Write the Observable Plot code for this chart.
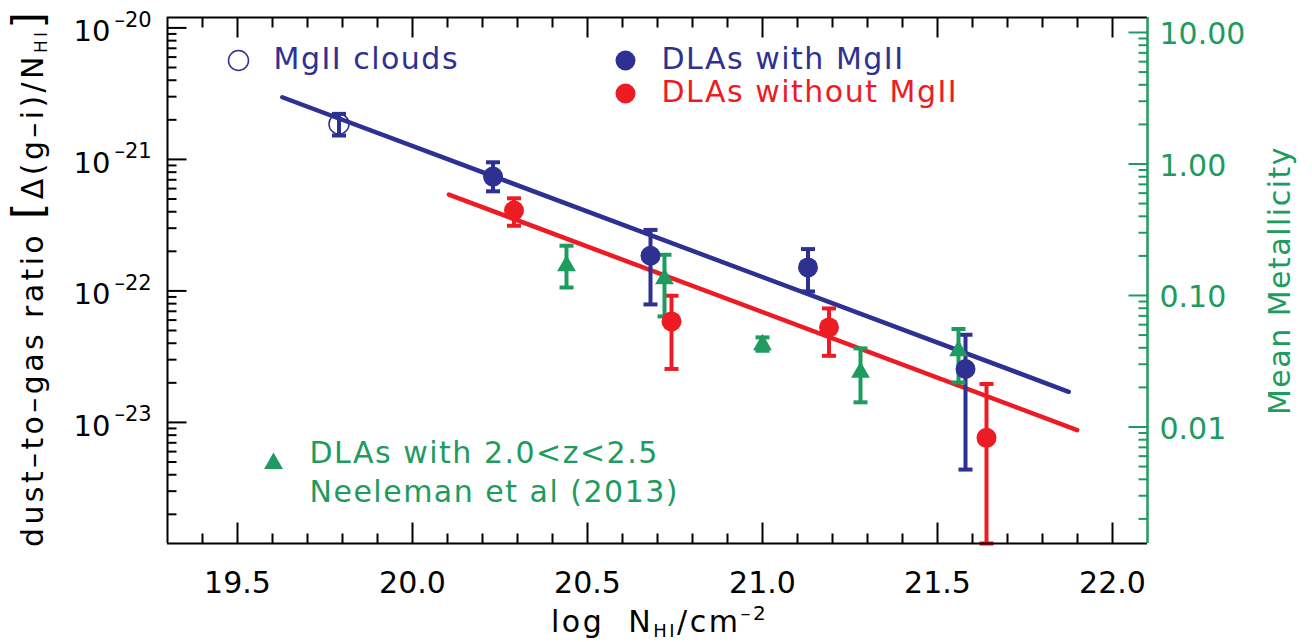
<!DOCTYPE html>
<html><head><meta charset="utf-8">
<script src="https://cdn.jsdelivr.net/npm/d3@7"></script>
<script src="https://cdn.jsdelivr.net/npm/@observablehq/plot@0.6"></script>
<style>body{margin:0;background:#fff} svg{display:block}</style>
</head><body><div id="chart"></div>
<script>
// ---- scales / ticks ----
const xDomain = [19.3, 22.1];
const yDomain = [1.2e-24, 1.2e-20];     // dust-to-gas ratio
const zDomain = [0.0013, 13];           // mean metallicity (right axis)
const xMajor = [19.5, 20.0, 20.5, 21.0, 21.5, 22.0];
const yMajor = [1e-20, 1e-21, 1e-22, 1e-23];
const yExpLabels = ["20", "21", "22", "23"];
const zMajor = [10, 1, 0.1, 0.01];

// ---- data ----
// MgII clouds
const mgNH = [19.79];
const mgRatio = [1.86e-21];
const mgLo = [1.52e-21];
const mgHi = [2.22e-21];
// DLAs with MgII
const wNH = [20.23, 20.68, 21.13, 21.58];
const wRatio = [7.40e-22, 1.85e-22, 1.51e-22, 2.55e-23];
const wLo = [5.72e-22, 7.89e-23, 9.91e-23, 4.38e-24];
const wHi = [9.51e-22, 2.91e-22, 2.08e-22, 4.64e-23];
// DLAs without MgII
const woNH = [20.29, 20.74, 21.19, 21.64];
const woRatio = [4.08e-22, 5.86e-23, 5.28e-23, 7.63e-24];
const woLo = [3.13e-22, 2.55e-23, 3.21e-23, 1.2e-24];
const woHi = [5.06e-22, 9.19e-23, 7.36e-23, 1.96e-23];
// Neeleman et al (2013), mean metallicity
const nNH = [20.44, 20.72, 21.00, 21.28, 21.56];
const nZ = [0.168, 0.134, 0.0422, 0.0260, 0.0380];
const nLo = [0.115, 0.0693, 0.0380, 0.0154, 0.0218];
const nHi = [0.239, 0.204, 0.0480, 0.0396, 0.0556];
// fits
const fitWithNH = [19.628, 21.875];
const fitWithRatio = [2.97e-21, 1.71e-23];
const fitWithoutNH = [20.104, 21.899];
const fitWithoutRatio = [5.40e-22, 8.74e-24];

// ---- styles ----
const blue = "#2E3192", red = "#ED1C24", green = "#1E9B5E";
const F = "DejaVu Sans";
const K = zDomain[1] / yDomain[1];  // metallicity per unit ratio

const rows = (xs, ys, lo, hi) => xs.map((x, i) => ({x, y: ys[i], lo: lo[i], hi: hi[i]}));
const mg = rows(mgNH, mgRatio, mgLo, mgHi);
const w = rows(wNH, wRatio, wLo, wHi);
const wo = rows(woNH, woRatio, woLo, woHi);
const ne = nNH.map((x, i) => ({x, y: nZ[i] / K, lo: nLo[i] / K, hi: nHi[i] / K}));
const fitW = fitWithNH.map((x, i) => ({x, y: fitWithRatio[i]}));
const fitWo = fitWithoutNH.map((x, i) => ({x, y: fitWithoutRatio[i]}));

const seg = (x1, y1, x2, y2) => ({draw(c) { c.moveTo(x1, y1); c.lineTo(x2, y2); }});
const cap = seg(-7, 0, 7, 0);

const xMinor = d3.range(194, 221).filter(d => d % 5 !== 0).map(d => d / 10);
const yMinor = [];
for (let e = -24; e <= -21; e++) for (let m = 2; m <= 9; m++) {
  const v = m * Math.pow(10, e);
  if (v > yDomain[0] && v < yDomain[1]) yMinor.push(v);
}
const zMinor = [];
for (let e = -3; e <= 1; e++) for (let m = 2; m <= 9; m++) {
  const v = m * Math.pow(10, e);
  if (v > zDomain[0] && v < zDomain[1]) zMinor.push(v);
}

function errMarks(data, color) {
  return [
    Plot.ruleX(data, {x: "x", y1: "lo", y2: "hi", stroke: color, strokeWidth: 4}),
    Plot.dot(data, {x: "x", y: "lo", symbol: cap, stroke: color, strokeWidth: 4, fill: "none"}),
    Plot.dot(data, {x: "x", y: "hi", symbol: cap, stroke: color, strokeWidth: 4, fill: "none"})
  ];
}
const tickOpts = (color, sw) => ({fill: "none", stroke: color, strokeWidth: sw});

const chart = Plot.plot({
  width: 1312, height: 642,
  marginLeft: 167, marginRight: 165, marginTop: 17, marginBottom: 99,
  style: {fontFamily: F, background: "#fff"},
  x: {domain: xDomain, axis: null},
  y: {type: "log", domain: yDomain, axis: null},
  marks: [
    // fits
    Plot.line(fitW, {x: "x", y: "y", stroke: blue, strokeWidth: 4.5}),
    Plot.line(fitWo, {x: "x", y: "y", stroke: red, strokeWidth: 4.5}),
    // error bars
    ...errMarks(mg, blue),
    ...errMarks(w, blue),
    ...errMarks(wo, red),
    ...errMarks(ne, green),
    // points
    Plot.dot(mg, {x: "x", y: "y", r: 10, stroke: blue, strokeWidth: 1.5, fill: "none"}),
    Plot.dot(w, {x: "x", y: "y", r: 10, fill: blue}),
    Plot.dot(wo, {x: "x", y: "y", r: 10, fill: red}),
    Plot.dot(ne, {x: "x", y: "y", r: 7, symbol: "triangle", fill: green}),
    // frame
    Plot.ruleY(yDomain, {stroke: "#000", strokeWidth: 2}),
    Plot.ruleX([xDomain[0]], {stroke: "#000", strokeWidth: 2}),
    Plot.ruleX([xDomain[1]], {stroke: green, strokeWidth: 2.5}),
    // bottom / top ticks
    Plot.dot(xMajor, {x: d => d, frameAnchor: "bottom", symbol: seg(0, 0, 0, -21), ...tickOpts("#000", 2)}),
    Plot.dot(xMinor, {x: d => d, frameAnchor: "bottom", symbol: seg(0, 0, 0, -10), ...tickOpts("#000", 2)}),
    Plot.dot(xMajor, {x: d => d, frameAnchor: "top", symbol: seg(0, 0, 0, 20), ...tickOpts("#000", 2)}),
    Plot.dot(xMinor, {x: d => d, frameAnchor: "top", symbol: seg(0, 0, 0, 10), ...tickOpts("#000", 2)}),
    // left ticks
    Plot.dot(yMajor, {y: d => d, frameAnchor: "left", symbol: seg(0, 0, 19, 0), ...tickOpts("#000", 2)}),
    Plot.dot(yMinor, {y: d => d, frameAnchor: "left", symbol: seg(0, 0, 9, 0), ...tickOpts("#000", 2)}),
    // right ticks (metallicity)
    Plot.dot(zMajor, {y: d => d / K, frameAnchor: "right", symbol: seg(0, 0, -19, 0), ...tickOpts(green, 2)}),
    Plot.dot(zMinor, {y: d => d / K, frameAnchor: "right", symbol: seg(0, 0, -9, 0), ...tickOpts(green, 2)}),
    // tick labels
    Plot.text(xMajor, {x: d => d, frameAnchor: "bottom", dy: 49, lineAnchor: "bottom", textAnchor: "middle", text: d3.format(".1f"), fontSize: 30, fill: "#000"}),
    Plot.text(yMajor, {y: d => d, frameAnchor: "left", dx: -57, dy: 4, textAnchor: "end", lineAnchor: "middle", text: () => "10", fontSize: 29, fill: "#000"}),
    Plot.text(yMajor, {y: d => d, frameAnchor: "left", dx: -53, dy: -8, textAnchor: "start", lineAnchor: "middle", text: (d, i) => "–" + yExpLabels[i], fontSize: 21, fill: "#000"}),
    Plot.text(zMajor, {y: d => d / K, frameAnchor: "right", dx: 12, dy: 2, textAnchor: "start", lineAnchor: "middle", text: d3.format(".2f"), fontSize: 30, fill: green}),
    // right axis title
    Plot.text(["Mean Metallicity"], {frameAnchor: "right", dx: 142, rotate: -90, textAnchor: "middle", lineAnchor: "bottom", fontSize: 30, fill: green}),
    // legend
    Plot.dot([0], {frameAnchor: "top-left", dx: 71, dy: 43, r: 10, stroke: blue, strokeWidth: 1.5, fill: "none"}),
    Plot.text(["MgII clouds"], {frameAnchor: "top-left", dx: 106, dy: 51, textAnchor: "start", lineAnchor: "bottom", fontSize: 30, fill: blue}),
    Plot.dot([0], {frameAnchor: "top-left", dx: 458, dy: 43, r: 10, fill: blue}),
    Plot.text(["DLAs with MgII"], {frameAnchor: "top-left", dx: 494, dy: 51, textAnchor: "start", lineAnchor: "bottom", fontSize: 30, fill: blue}),
    Plot.dot([0], {frameAnchor: "top-left", dx: 458, dy: 76, r: 10, fill: red}),
    Plot.text(["DLAs without MgII"], {frameAnchor: "top-left", dx: 494, dy: 84.5, textAnchor: "start", lineAnchor: "bottom", fontSize: 30, fill: red}),
    Plot.dot([0], {frameAnchor: "top-left", dx: 106, dy: 446, r: 7, symbol: "triangle", fill: green}),
    Plot.text(["DLAs with 2.0<z<2.5"], {frameAnchor: "top-left", dx: 142, dy: 445, textAnchor: "start", lineAnchor: "bottom", fontSize: 30, fill: green}),
    Plot.text(["Neeleman et al (2013)"], {frameAnchor: "top-left", dx: 142, dy: 484, textAnchor: "start", lineAnchor: "bottom", fontSize: 30, fill: green})
  ]
});
document.getElementById("chart").appendChild(chart);

const svg = d3.select(chart);
svg.selectAll("text").filter(function () { return /[a-z]/i.test(this.textContent); })
  .style("letter-spacing", "1.5px");

// left axis title
const lt = svg.append("text").attr("transform", "translate(43,547) rotate(-90)")
  .attr("text-anchor", "start")
  .attr("font-family", F).attr("font-size", 30).attr("fill", "#000").style("letter-spacing", "3.4px");
lt.append("tspan").text("dust–to–gas ratio ");
lt.append("tspan").attr("font-size", 42).text("[");
lt.append("tspan").text("Δ(g–i)/N");
lt.append("tspan").attr("font-size", 17).attr("dy", 4).text("HI");
lt.append("tspan").attr("font-size", 42).attr("dy", -4).text("]");

// bottom axis title
const bt = svg.append("text").attr("x", 551).attr("y", 632)
  .attr("text-anchor", "start")
  .attr("font-family", F).attr("font-size", 30).attr("fill", "#000").style("letter-spacing", "2.5px");
bt.append("tspan").text("log  N").style("white-space", "pre");
bt.append("tspan").attr("font-size", 18).attr("dy", 5).text("HI");
bt.append("tspan").attr("dy", -5).text("/cm");
bt.append("tspan").attr("font-size", 20).attr("dy", -12).text("–2");
</script>
</body></html>
